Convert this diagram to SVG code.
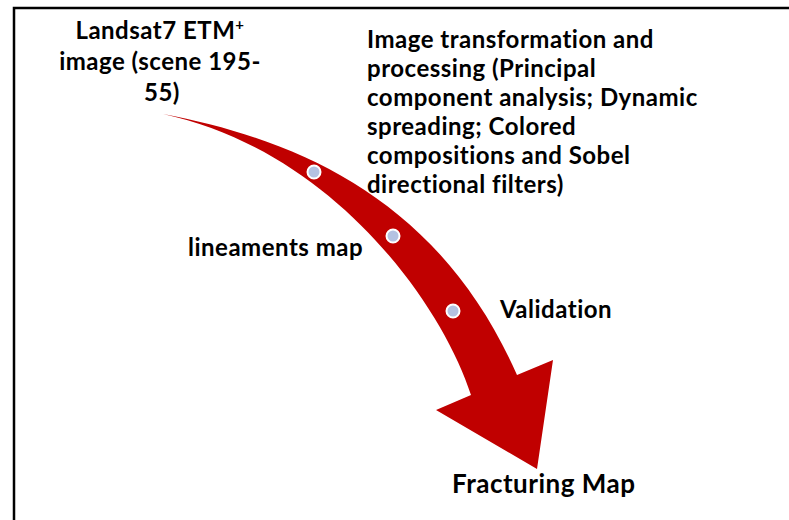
<svg xmlns="http://www.w3.org/2000/svg" width="789" height="520" viewBox="0 0 789 520">
<style>
.t{font-family:Lato,"Liberation Sans",sans-serif;font-weight:bold;font-size:24px;letter-spacing:0.5px;fill:#000}
.c{text-anchor:middle}
.big{font-size:26px}
.sup{font-size:15px}
.dot{fill:#b4c2e2;stroke:#fff;stroke-width:2}
</style>
<rect x="0" y="0" width="789" height="520" fill="#fff"/>
<path d="M14,530 V8 H800" fill="none" stroke="#000" stroke-width="2.5"/>
<g id="connectors">
<path id="arrow" d="M163,114 C300,140 440,200 517,375 L553,360 L537,469 L436,410 L471,395 C440,300 330,150 163,114 Z" fill="#c00000"/>
</g>
<g id="dots">
<circle class="dot" cx="314" cy="172" r="6.5"/>
<circle class="dot" cx="393" cy="236" r="6.5"/>
<circle class="dot" cx="453" cy="311" r="6.5"/>
</g>
<g id="landsat">
<text class="t c" x="160" y="39">Landsat7 ETM<tspan class="sup" dy="-9">+</tspan></text>
<text class="t c" x="160" y="70">image (scene 195-</text>
<text class="t c" x="162" y="101">55)</text>
</g>
<g id="processing">
<text class="t" x="367" y="48">Image transformation and</text>
<text class="t" x="367" y="77">processing (Principal</text>
<text class="t" x="367" y="106">component analysis; Dynamic</text>
<text class="t" x="367" y="135">spreading; Colored</text>
<text class="t" x="367" y="164">compositions and Sobel</text>
<text class="t" x="367" y="193">directional filters)</text>
</g>
<g id="lineaments"><text class="t" x="188" y="256">lineaments map</text></g>
<g id="validation"><text class="t" x="500" y="318">Validation</text></g>
<g id="fracturing"><text class="t big" x="452" y="493">Fracturing Map</text></g>
</svg>
